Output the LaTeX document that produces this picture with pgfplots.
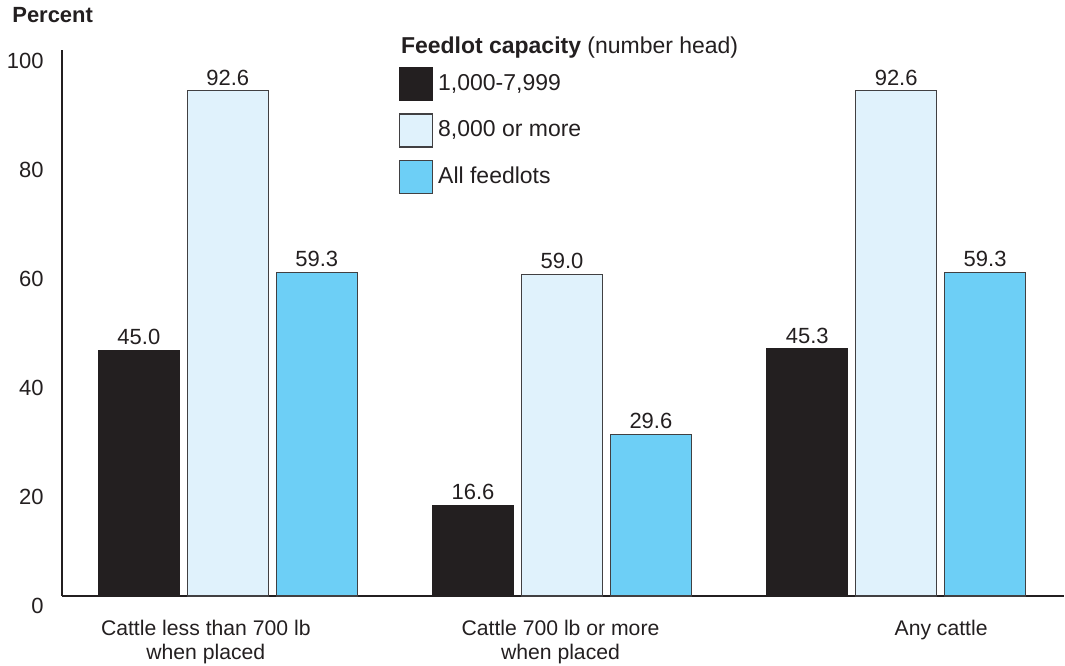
\documentclass[border=0pt]{standalone}
\usepackage{fontspec}
\setmainfont{Liberation Sans}
\usepackage{pgfplots}
\pgfplotsset{compat=1.18}
\definecolor{cdark}{HTML}{231F20}
\definecolor{clight}{HTML}{E0F2FC}
\definecolor{cblue}{HTML}{6DCFF6}
\definecolor{cedge}{HTML}{414042}
\begin{document}
\begin{tikzpicture}[font=\fontsize{11}{13}\selectfont]
\path (-31pt,-34.75pt) rectangle (501.5pt,298.25pt);
\begin{axis}[
 scale only axis, width=501.5pt, height=273pt,
 xmin=-0.4963, xmax=2.5022, ymin=0, ymax=100,
 clip=false,
 axis x line=bottom, axis y line=left,
 axis line style={-, line width=1pt, color=cdark},
 ytick={0,20,...,100},
 xtick={-0.0658,0.9955,2.1345},
 xticklabels={{Cattle less than 700 lb\\when placed},{Cattle 700 lb or more\\when placed},{Any cattle}},
 xticklabel style={align=center, inner sep=0pt, anchor=north, yshift=-12pt, font=\fontsize{10.6}{12}\selectfont, text=cdark},
 yticklabel style={inner sep=0pt, anchor=east, xshift=-9pt, yshift=-5pt, text=cdark},
 major tick length=0pt,
 /pgf/number format/assume math mode=true,
 ybar=4pt, bar width=40.5pt,
 nodes near coords={\pgfmathprintnumber[fixed,fixed zerofill,precision=1]{\pgfplotspointmeta}},
 every node near coord/.append style={inner sep=0pt, yshift=2.5pt, text=cdark, font=\fontsize{11}{13}\selectfont},
 legend style={draw=none, fill=none, at={(0.336,0.970)}, anchor=north west, inner sep=0pt, row sep=6pt, column sep=2.5pt, nodes={inner sep=0pt, text=cdark}, font=\fontsize{11.5}{13}\selectfont},
 legend cell align=left,
 mybox/.style={legend image code/.code={\draw[##1] (0pt,-8.25pt) rectangle (16.5pt,8.25pt);}},
]
\addplot[fill=cdark, draw=cdark, line width=0.6pt, mybox] coordinates {(0,45.0) (1,16.6) (2,45.3)};
\addlegendentry{1,000-7,999}
\addplot[fill=clight, draw=cedge, line width=0.6pt, mybox] coordinates {(0,92.6) (1,59.0) (2,92.6)};
\addlegendentry{8,000 or more}
\addplot[fill=cblue, draw=cedge, line width=0.6pt, mybox] coordinates {(0,59.3) (1,29.6) (2,59.3)};
\addlegendentry{All feedlots}
\node[anchor=west, inner sep=0pt, text=cdark, font=\fontsize{11.5}{13}\selectfont] at (rel axis cs:0.338,1.006) {\textbf{Feedlot capacity} (number head)};
\node[anchor=west, inner sep=0pt, text=cdark] at (rel axis cs:-0.0499,1.065) {\textbf{Percent}};
\end{axis}
\end{tikzpicture}
\end{document}
